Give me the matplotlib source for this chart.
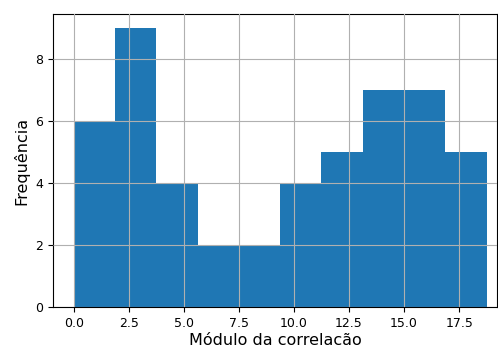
import numpy as np
import matplotlib
matplotlib.use('Agg')
import matplotlib.pyplot as plt

# histograma do modulo da correlacao (contagens)
bin_edges = [0.0, 1.875, 3.75, 5.625, 7.5, 9.375, 11.25, 13.125, 15.0, 16.875, 18.75]
frequencias = [6, 9, 4, 2, 2, 4, 5, 7, 7, 5]

fig = plt.figure(figsize=(4.98, 3.49), dpi=100)
ax = fig.add_axes([0.1064, 0.1203, 0.8916, 0.8396])

ax.hist(bin_edges[:-1], bins=bin_edges, weights=frequencias, color='#1f77b4')
ax.grid(True, color='#b0b0b0', linewidth=0.8)
ax.set_axisbelow(False)

ax.set_xlim(-0.9375, 19.22)
ax.set_ylim(0, 9.45)
ax.set_xticks(np.arange(0, 18, 2.5))
ax.set_yticks([0, 2, 4, 6, 8])
ax.tick_params(labelsize=9)

ax.set_xlabel('Módulo da correlacão', fontsize=11.5, labelpad=2)
ax.set_ylabel('Frequência', fontsize=11.5)

fig.savefig('out.png', dpi=100)
